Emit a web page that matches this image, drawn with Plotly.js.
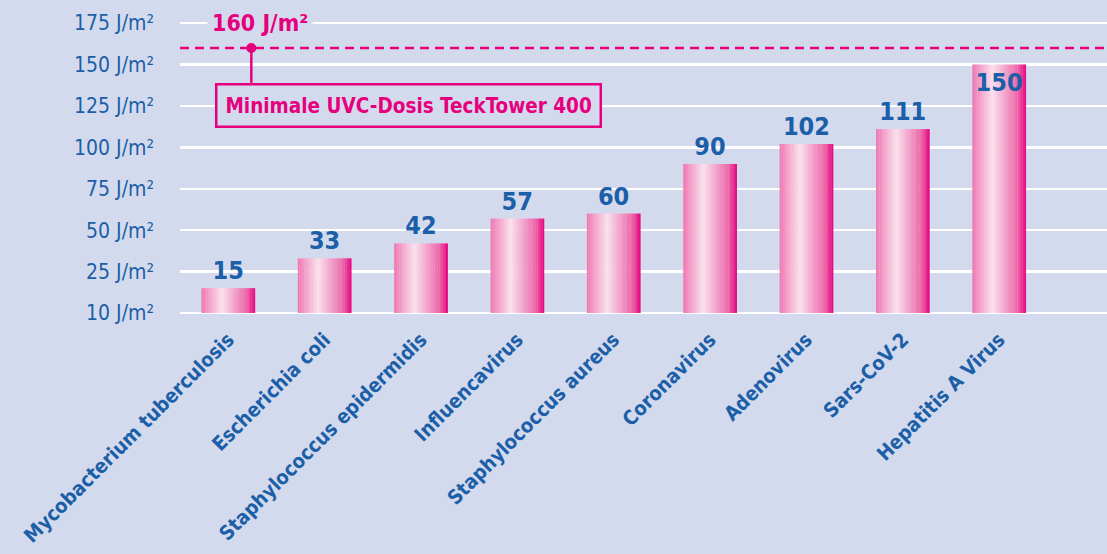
<!DOCTYPE html>
<html>
<head>
<meta charset="utf-8">
<script src="https://cdn.plot.ly/plotly-3.0.1.min.js"></script>
<style>
  html, body { margin: 0; padding: 0; background: #d4daed; }
  #chart { width: 1107px; height: 554px; }
</style>
</head>
<body>
<div id="chart"></div>
<script>
// ---- data ----
const categories = [
  "Mycobacterium tuberculosis", "Escherichia coli", "Staphylococcus epidermidis",
  "Influencavirus", "Staphylococcus aureus", "Coronavirus", "Adenovirus",
  "Sars-CoV-2", "Hepatitis A Virus"
];
const doses = [15, 33, 42, 57, 60, 90, 102, 111, 150];
const yTickValues = [0, 25, 50, 75, 100, 125, 150, 175];
const yTickLabels = ["10 J/m²", "25 J/m²", "50 J/m²", "75 J/m²", "100 J/m²", "125 J/m²", "150 J/m²", "175 J/m²"];
const threshold = 160;
const thresholdLabel = "160 J/m²";
const thresholdNote = "Minimale UVC-Dosis TeckTower 400";

// ---- style ----
const BG = "#d4daed";
const BLUE = "#1b5fa8";
const MAGENTA = "#e6007e";
const FONT = "'DejaVu Sans Condensed', 'Liberation Sans Narrow', sans-serif";
const barWidth = 0.555;
const nStrips = 32;
const gradStops = [
  [0.0, [240, 118, 178]],
  [0.38, [252, 226, 237]],
  [0.62, [243, 160, 202]],
  [0.85, [238, 100, 168]],
  [1.0, [230, 0, 126]]
];
function gradColor(t) {
  for (let i = 1; i < gradStops.length; i++) {
    if (t <= gradStops[i][0]) {
      const [t0, c0] = gradStops[i - 1], [t1, c1] = gradStops[i];
      const f = (t - t0) / (t1 - t0);
      const c = c0.map((v, k) => Math.round(v + (c1[k] - v) * f));
      return `rgb(${c[0]},${c[1]},${c[2]})`;
    }
  }
  return "rgb(230,0,126)";
}

const xIdx = categories.map((_, i) => i);
const traces = [];
const sw = barWidth / nStrips;
for (let s = 0; s < nStrips; s++) {
  traces.push({
    type: "bar", x: xIdx, y: doses,
    width: sw * 1.15, offset: -barWidth / 2 + s * sw,
    marker: { color: gradColor((s + 0.5) / nStrips), line: { width: 0 } },
    hoverinfo: "skip", showlegend: false
  });
}
// value labels
const valFont = { family: FONT, size: 25, color: BLUE, weight: "bold" };
traces.push({
  type: "bar", x: xIdx, y: doses, width: barWidth,
  marker: { color: "rgba(0,0,0,0)" },
  text: doses.map(String),
  textposition: doses.map(v => v >= 140 ? "inside" : "outside"),
  insidetextanchor: "end", textangle: 0,
  textfont: valFont, insidetextfont: valFont, outsidetextfont: valFont,
  constraintext: "none", cliponaxis: false,
  hoverinfo: "skip", showlegend: false
});

const layout = {
  width: 1107, height: 554,
  paper_bgcolor: BG, plot_bgcolor: BG,
  margin: { l: 180, r: 0, t: 10, b: 241 },
  barmode: "overlay",
  showlegend: false,
  font: { family: FONT, color: BLUE },
  xaxis: {
    range: [-0.5, 9.12],
    tickmode: "array", tickvals: xIdx, ticktext: categories,
    tickangle: -45, showgrid: false, zeroline: false, showline: false,
    ticks: "", ticklabelstandoff: 10,
    tickfont: { family: FONT, size: 20, color: BLUE, weight: "bold" },
    fixedrange: true
  },
  yaxis: {
    range: [0, 182.9],
    tickmode: "array", tickvals: yTickValues, ticktext: yTickLabels,
    showgrid: true, gridcolor: "#ffffff", gridwidth: 2.5,
    zeroline: true, zerolinecolor: "#ffffff", zerolinewidth: 2.5,
    ticks: "", ticklabelstandoff: 25,
    tickfont: { family: FONT, size: 21, color: BLUE },
    fixedrange: true
  },
  shapes: [
    { type: "line", xref: "paper", x0: 0, x1: 1, yref: "y", y0: threshold, y1: threshold,
      line: { color: MAGENTA, width: 2.5, dash: "9px,6px" } },
    { type: "line", xref: "x", x0: 0.24, x1: 0.24, yref: "y", ysizemode: "pixel",
      yanchor: threshold, y0: 0, y1: -35, line: { color: MAGENTA, width: 2.5 } },
    { type: "circle", xref: "x", xsizemode: "pixel", xanchor: 0.24, x0: -5, x1: 5,
      yref: "y", ysizemode: "pixel", yanchor: threshold, y0: -5, y1: 5,
      fillcolor: MAGENTA, line: { width: 0 } }
  ],
  annotations: [
    { xref: "x", yref: "y", x: 0.335, y: 175, text: thresholdLabel, showarrow: false,
      font: { family: FONT, size: 23, color: MAGENTA, weight: "bold" },
      bgcolor: BG, borderpad: 4, xanchor: "center", yanchor: "middle" },
    { xref: "x", yref: "y", x: 0.24, y: threshold, xanchor: "left", yanchor: "top",
      xshift: -36, yshift: -35, text: thresholdNote, showarrow: false,
      font: { family: FONT, size: 20.5, color: MAGENTA, weight: "bold" },
      bgcolor: BG, bordercolor: MAGENTA, borderwidth: 2.5, borderpad: 8 }
  ]
};

Plotly.newPlot("chart", traces, layout, { displayModeBar: false, staticPlot: true });
</script>
</body>
</html>
